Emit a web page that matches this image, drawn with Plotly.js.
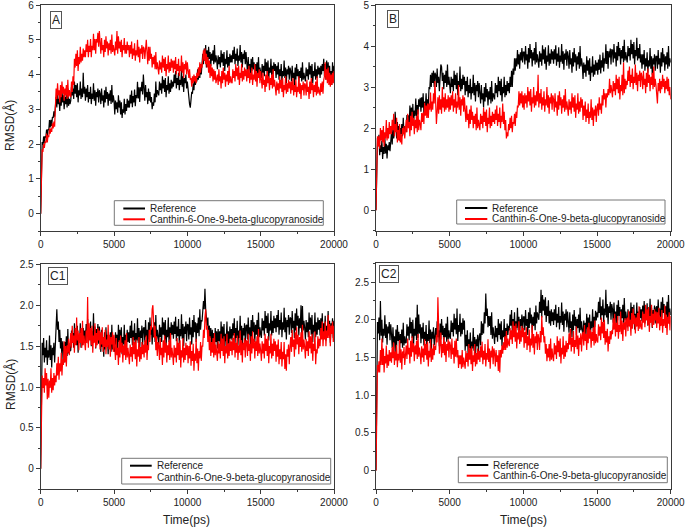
<!DOCTYPE html>
<html>
<head>
<meta charset="utf-8">
<script src="https://cdn.plot.ly/plotly-3.0.1.min.js"></script>
<style>html,body{margin:0;padding:0;background:#fff;}#chart{width:685px;height:527px;}</style>
</head>
<body>
<div id="chart"></div>
<script>
// ---- data (RMSD in Å, sampled every 50 ps from 0 to 20000 ps; one row = 1000 ps) ----
const timeStepPs = 50;
const seriesNames = ["Reference", "Canthin-6-One-9-beta-glucopyranoside"];
const panelLabels = ["A", "B", "C1", "C2"];

const aRef = [0,
1.82,2.06,1.98,2.22,2.02,2.23,2.18,2.42,2.21,2.43,2.4,2.69,2.48,2.7,2.52,2.78,2.75,2.94,2.79,3.03,
3.35,3.05,3.5,3.15,3.3,2.95,3.45,3.1,3.55,3.2,3.4,3.0,3.35,3.15,3.45,3.05,3.6,3.1,3.3,3.15,
3.25,3.65,3.4,3.6,3.3,3.8,3.45,3.7,3.35,3.75,3.2,3.55,3.4,3.8,3.3,3.6,3.35,4.05,3.45,3.65,
3.25,3.6,3.35,3.7,3.2,3.5,3.3,3.65,3.15,3.45,3.3,3.75,3.25,3.55,3.1,3.5,3.35,3.6,3.2,3.55,
3.45,3.15,3.6,3.25,3.4,3.05,3.55,3.2,3.65,3.3,3.5,3.1,3.45,3.25,3.55,3.15,3.7,3.2,3.4,3.25,
2.85,3.25,3.0,3.2,2.9,3.4,3.05,3.25,2.85,3.2,2.75,3.0,2.9,3.3,2.85,3.15,2.95,3.3,3.05,3.25,
3.05,3.42,3.17,3.54,3.06,3.38,3.2,3.57,3.09,3.41,3.32,3.79,3.31,3.63,3.21,3.63,3.52,3.79,3.43,4.0,
3.55,3.25,3.7,3.35,3.5,3.15,3.6,3.25,3.5,3.2,3.35,3.0,3.2,3.1,3.45,3.2,3.8,3.35,3.55,3.45,
3.4,3.8,3.55,3.75,3.45,3.95,3.6,3.85,3.5,3.9,3.35,3.7,3.55,3.95,3.45,3.75,3.5,3.85,3.6,3.8,
3.65,4.0,3.75,4.1,3.6,3.9,3.7,4.05,3.55,3.85,3.7,4.15,3.65,3.95,3.5,3.9,3.75,4.0,3.6,3.8,
3.5,3.3,3.15,3.05,3.25,3.5,3.45,3.75,3.55,3.95,3.7,3.95,3.8,4.15,3.85,4.2,3.9,4.3,4.0,4.35,
4.6,4.3,4.75,4.4,4.85,4.2,4.7,4.35,4.8,4.45,4.65,4.25,4.6,4.4,4.7,4.3,4.85,4.35,4.55,4.4,
4.15,4.55,4.3,4.5,4.2,4.7,4.35,4.6,4.25,4.65,4.1,4.45,4.3,4.7,4.2,4.5,4.25,4.6,4.35,4.55,
4.35,4.7,4.45,4.8,4.3,4.6,4.4,4.75,4.25,4.55,4.4,4.85,4.35,4.65,4.2,4.6,4.45,4.7,4.3,4.65,
4.35,4.05,4.5,4.15,4.3,3.95,4.45,4.1,4.5,4.15,4.35,3.95,4.3,4.1,4.35,3.95,4.5,4.0,4.2,4.05,
3.9,4.3,4.05,4.25,3.95,4.45,4.1,4.35,4.0,4.4,3.85,4.2,4.05,4.45,3.95,4.25,4.0,4.35,4.1,4.3,
3.9,4.25,4.0,4.35,3.85,4.15,3.95,4.3,3.8,4.1,3.95,4.4,3.9,4.2,3.75,4.15,4.0,4.25,3.85,4.2,
4.1,3.8,4.25,3.9,4.05,3.7,4.2,3.85,4.3,3.95,4.15,3.75,4.1,3.9,4.2,3.8,4.35,3.85,4.05,3.9,
3.8,4.2,3.95,4.15,3.85,4.35,4.0,4.25,3.9,4.3,3.75,4.1,3.95,4.35,3.85,4.15,3.9,4.25,4.0,4.2,
3.9,4.25,4.0,4.3,4.1,4.45,3.95,4.3,3.85,4.4,3.9,4.35,4.0,4.25,3.8,4.1,3.7,4.35,3.85,4.25];

const aLig = [0,
1.62,1.85,1.77,2.0,1.89,2.08,2.03,2.3,2.05,2.25,2.2,2.45,2.3,2.45,2.35,2.6,2.45,2.65,2.5,2.9,
3.6,3.3,3.75,3.4,3.55,3.2,3.7,3.35,3.8,3.45,3.65,3.25,3.6,3.4,3.7,3.3,3.85,3.35,3.55,3.4,
3.35,3.8,3.5,3.95,3.7,4.45,4.2,4.6,4.25,4.7,4.1,4.5,4.3,4.8,4.35,4.6,4.4,4.75,4.5,4.7,
4.5,4.87,4.65,5.0,4.5,4.83,4.65,5.02,4.5,4.83,4.7,5.17,4.7,5.02,4.6,5.02,4.92,5.2,4.8,5.25,
4.9,4.6,5.05,4.7,4.85,4.5,5.0,4.65,5.1,4.75,4.95,4.55,4.9,4.7,5.0,4.6,5.15,4.65,4.85,4.7,
4.55,4.95,4.7,5.25,4.6,5.1,4.75,4.95,4.65,5.0,4.5,4.85,4.7,5.05,4.6,4.85,4.6,4.95,4.7,4.85,
4.5,4.85,4.6,4.95,4.45,4.75,4.55,4.9,4.4,4.7,4.55,5.0,4.5,4.8,4.35,4.75,4.6,4.85,4.45,4.8,
4.75,4.45,4.85,5.0,4.65,4.3,4.8,4.4,4.8,4.45,4.6,4.2,4.5,4.3,4.55,4.15,4.65,4.15,4.35,4.2,
4.0,4.4,4.15,4.35,4.05,4.55,4.2,4.45,4.1,4.5,3.95,4.3,4.15,4.55,4.05,4.35,4.1,4.45,4.2,4.4,
4.05,4.4,4.15,4.5,4.0,4.3,4.1,4.45,3.95,4.25,4.1,4.55,4.05,4.35,3.9,4.3,4.15,4.4,4.0,4.35,
4.2,3.9,4.15,3.85,3.9,3.65,3.95,3.75,4.0,3.8,3.95,3.75,4.05,3.9,4.2,3.95,4.35,4.05,4.3,4.2,
4.45,4.7,4.4,4.75,4.3,4.6,4.2,4.5,4.05,4.4,3.9,4.3,3.95,4.2,3.8,4.15,3.85,4.1,3.75,4.0,
4.0,3.7,4.15,3.8,3.95,3.6,4.1,3.75,4.2,3.85,4.05,3.65,4.0,3.8,4.1,3.7,4.25,3.75,3.95,3.8,
3.75,4.15,3.9,4.1,3.8,4.3,3.95,4.2,3.85,4.25,3.7,4.05,3.9,4.3,3.8,4.1,3.85,4.2,3.95,4.15,
3.8,4.15,3.9,4.25,3.75,4.05,3.85,4.2,3.7,4.0,3.85,4.3,3.8,4.1,3.65,4.05,3.9,4.15,3.75,4.1,
3.9,3.6,4.05,3.7,3.85,3.5,4.0,3.65,4.1,3.75,3.95,3.55,3.9,3.7,4.0,3.6,4.15,3.65,3.85,3.7,
3.4,3.8,3.55,3.75,3.45,3.95,3.6,3.85,3.5,3.9,3.35,3.7,3.55,3.95,3.45,3.75,3.5,3.85,3.6,3.8,
3.45,3.8,3.55,3.9,3.4,3.7,3.5,3.85,3.35,3.65,3.5,3.95,3.45,3.75,3.3,3.7,3.55,3.8,3.4,3.75,
3.7,3.4,3.85,3.5,3.65,3.3,3.8,3.45,3.9,3.55,3.75,3.35,3.7,3.5,3.8,3.4,3.95,3.45,3.65,3.5,
3.4,3.75,3.5,3.8,3.45,3.85,3.95,4.35,3.85,4.15,3.75,4.2,3.7,4.05,3.65,4.0,3.7,4.05,3.75,4.1];

const bRef = [0,
1.48,1.76,1.56,1.84,1.34,1.58,1.42,1.7,1.25,1.54,1.37,1.77,1.38,1.62,1.26,1.58,1.46,1.66,1.44,1.82,
1.9,1.6,2.05,1.75,1.9,2.4,2.05,1.75,2.15,1.85,2.05,1.7,2.0,1.85,2.1,1.8,2.25,1.85,2.05,1.95,
1.9,2.32,2.09,2.31,2.03,2.55,2.23,2.5,2.17,2.59,2.06,2.43,2.3,2.72,2.24,2.56,2.33,2.7,2.52,2.74,
2.4,2.75,2.5,2.85,2.35,2.65,2.5,2.85,2.4,2.7,2.55,3.0,2.95,3.3,3.0,3.35,3.1,3.4,3.0,3.35,
3.3,3.0,3.45,3.1,3.25,2.9,3.4,3.55,3.5,3.15,3.35,2.95,3.3,3.1,3.4,3.0,3.55,3.05,3.25,3.1,
2.85,3.25,3.0,3.2,2.9,3.4,3.05,3.3,2.95,3.35,2.8,3.15,3.0,3.5,2.9,3.2,2.95,3.3,3.05,3.25,
2.8,3.15,2.9,3.25,2.75,3.05,2.85,3.2,2.7,3.0,2.85,3.3,2.8,3.1,2.65,3.05,2.9,3.15,2.75,3.1,
2.9,2.6,3.05,2.7,2.85,2.5,3.0,2.65,3.1,2.75,2.95,2.55,2.9,2.7,3.0,2.6,3.15,2.65,2.85,2.7,
2.7,3.1,2.85,3.05,2.75,3.25,2.9,3.15,2.8,3.2,2.65,3.0,2.85,3.25,2.75,3.05,2.8,3.15,2.9,3.1,
2.85,3.25,3.0,3.4,3.0,3.45,3.3,3.7,3.4,3.7,3.5,3.9,3.55,3.8,3.45,3.85,3.65,3.95,3.6,3.85,
3.85,3.55,4.0,3.65,3.8,3.45,3.95,3.6,4.05,3.7,3.9,3.5,3.85,3.65,3.95,3.55,4.1,3.6,3.8,3.65,
3.47,3.87,3.62,3.82,3.52,4.02,3.67,3.92,3.57,3.97,3.42,3.77,3.62,4.02,3.52,3.82,3.57,3.92,3.67,3.87,
3.57,3.92,3.67,4.02,3.52,3.82,3.62,3.97,3.47,3.77,3.62,4.05,3.57,3.87,3.42,3.82,3.67,3.92,3.52,3.87,
3.75,3.45,3.9,3.55,3.7,3.35,3.85,3.5,3.95,3.6,3.8,3.4,3.75,3.55,3.85,3.45,4.0,3.5,3.7,3.55,
3.2,3.6,3.35,3.55,3.25,3.75,3.4,3.65,3.3,3.7,3.15,3.5,3.35,3.75,3.25,3.55,3.3,3.65,3.4,3.6,
3.3,3.67,3.42,3.79,3.33,3.65,3.47,3.84,3.38,3.7,3.57,4.04,3.56,3.88,3.45,3.87,3.72,3.94,3.55,3.92,
3.9,3.6,4.05,3.7,3.85,3.5,4.0,3.65,4.1,3.75,3.95,3.55,3.9,3.7,4.0,3.6,4.15,3.65,3.85,3.7,
3.6,4.0,3.75,3.95,3.65,4.15,3.8,4.05,3.7,4.1,3.55,3.9,3.75,4.2,3.65,3.95,3.7,4.05,3.6,3.8,
3.45,3.8,3.55,3.9,3.4,3.7,3.5,3.85,3.35,3.65,3.5,3.95,3.45,3.75,3.3,3.7,3.55,3.8,3.4,3.75,
3.75,3.45,3.9,3.55,3.7,3.35,3.85,3.5,3.95,3.6,3.8,3.4,3.75,3.55,3.85,3.45,4.0,3.5,3.7,3.6];

const bLig = [0,
1.35,1.8,1.55,1.8,1.5,2.0,1.7,1.95,1.65,2.05,1.55,1.9,1.75,2.2,1.7,2.0,1.75,2.15,1.85,2.05,
1.85,2.2,1.95,2.35,1.8,2.1,1.9,2.25,1.65,1.95,1.7,2.1,1.65,1.85,1.6,2.0,1.85,2.05,1.75,2.1,
2.2,1.9,2.35,2.0,2.15,1.8,2.3,1.95,2.4,2.05,2.25,1.85,2.2,2.0,2.3,1.9,2.45,1.95,2.2,2.1,
1.95,2.37,2.15,2.38,2.1,2.62,2.3,2.55,2.25,2.6,2.25,2.6,2.45,2.87,2.4,2.65,2.45,2.85,2.6,3.15,
2.2,2.1,2.4,2.75,2.35,2.8,2.45,2.7,2.35,3.0,2.5,2.75,2.4,2.85,2.45,2.7,2.5,2.8,2.4,2.75,
2.45,2.8,2.55,2.9,2.4,2.7,2.5,2.85,2.35,2.65,2.5,3.05,2.45,2.75,2.3,2.7,2.55,2.8,2.4,2.75,
2.45,2.15,2.55,2.2,2.35,2.0,2.45,2.1,2.55,2.2,2.4,2.0,2.3,2.1,2.35,1.95,2.5,2.0,2.2,2.05,
1.95,2.35,2.1,2.3,2.0,2.5,2.15,2.4,2.05,2.45,1.9,2.25,2.1,2.5,2.0,2.3,2.05,2.4,2.15,2.35,
2.1,2.45,2.2,2.55,2.05,2.35,2.15,2.5,2.0,2.3,2.15,2.6,2.1,2.4,1.95,2.2,1.75,1.9,1.8,2.1,
1.95,2.25,2.0,2.3,1.9,2.15,2.1,2.35,2.05,2.4,2.25,2.55,2.5,2.9,2.55,2.85,2.6,2.9,2.5,2.8,
2.45,2.85,2.6,2.8,2.5,3.0,2.65,2.9,2.55,2.95,2.4,2.75,2.6,3.0,2.5,2.8,2.55,2.9,2.65,3.3,
2.5,2.85,2.6,2.95,2.45,2.75,2.55,2.9,2.4,2.7,2.55,3.0,2.5,2.8,2.35,2.75,2.6,2.85,2.45,2.8,
2.7,2.4,2.85,2.5,2.65,2.3,2.8,2.45,2.9,2.55,2.75,2.35,2.7,2.5,2.8,2.4,2.95,2.45,2.65,2.5,
2.3,2.7,2.45,2.65,2.35,2.85,2.5,2.75,2.4,2.8,2.25,2.6,2.45,2.85,2.35,2.65,2.4,2.75,2.5,2.7,
2.2,2.55,2.3,2.65,2.15,2.45,2.25,2.6,2.1,2.4,2.25,2.7,2.2,2.5,2.05,2.45,2.3,2.55,2.15,2.5,
2.6,2.3,2.75,2.45,2.6,2.35,2.8,2.55,2.95,2.7,2.85,2.5,2.85,2.75,2.95,2.8,3.2,2.85,3.05,2.9,
2.75,3.15,2.9,3.1,2.8,3.3,2.95,3.2,2.85,3.25,2.7,3.05,2.9,3.3,2.8,3.6,2.85,3.2,2.95,3.15,
3.05,3.4,3.15,3.5,3.0,3.3,3.1,3.45,2.95,3.25,3.1,3.55,3.05,3.35,2.9,3.3,3.15,3.4,3.0,3.35,
3.25,2.95,3.4,3.05,3.2,2.85,3.35,3.0,3.45,3.1,3.3,2.9,3.25,3.05,3.35,2.95,3.5,3.0,3.2,3.05,
2.85,2.6,3.1,2.9,3.2,2.85,3.15,2.95,3.3,3.0,3.2,2.85,3.15,2.95,3.25,2.9,3.2,2.8,3.0,2.7];

const c1Ref = [0,
1.33,1.54,1.39,1.6,1.3,1.48,1.36,1.57,1.27,1.45,1.36,1.63,1.33,1.51,1.24,1.48,1.39,1.54,1.3,1.51,
1.62,1.95,1.7,1.8,1.55,1.7,1.47,1.6,1.32,1.56,1.47,1.3,1.55,1.44,1.62,1.38,1.71,1.41,1.53,1.44,
1.45,1.69,1.54,1.66,1.48,1.78,1.57,1.72,1.51,1.75,1.42,1.63,1.54,1.78,1.48,1.66,1.51,1.72,1.57,1.69,
1.56,1.77,1.62,1.83,1.53,1.71,1.59,1.8,1.5,1.68,1.59,1.9,1.56,1.74,1.47,1.71,1.62,1.77,1.53,1.74,
1.61,1.43,1.7,1.49,1.58,1.37,1.67,1.46,1.73,1.52,1.64,1.4,1.61,1.49,1.67,1.43,1.76,1.46,1.58,1.49,
1.43,1.67,1.52,1.64,1.46,1.76,1.55,1.7,1.49,1.73,1.4,1.61,1.52,1.76,1.46,1.64,1.49,1.7,1.55,1.67,
1.54,1.75,1.6,1.81,1.51,1.69,1.57,1.78,1.48,1.66,1.57,1.84,1.54,1.72,1.45,1.69,1.6,1.75,1.51,1.72,
1.73,1.55,1.82,1.61,1.7,1.49,1.79,1.58,1.85,1.64,1.76,1.52,1.73,1.61,1.79,1.55,1.88,1.58,1.7,1.61,
1.52,1.76,1.61,1.73,1.55,1.85,1.64,1.79,1.58,1.82,1.49,1.7,1.61,1.85,1.55,1.73,1.58,1.79,1.64,1.76,
1.59,1.8,1.65,1.86,1.56,1.74,1.62,1.83,1.53,1.71,1.62,1.89,1.59,1.77,1.5,1.74,1.65,1.8,1.56,1.77,
1.76,1.58,1.85,1.64,1.73,1.52,1.82,1.61,1.88,1.67,1.79,1.55,1.78,1.66,1.85,1.62,1.95,1.7,1.82,1.8,
1.9,2.05,1.95,2.2,1.95,1.8,1.75,1.85,1.55,1.75,1.6,1.72,1.48,1.7,1.52,1.66,1.45,1.72,1.55,1.68,
1.47,1.71,1.56,1.68,1.5,1.8,1.59,1.74,1.53,1.77,1.44,1.65,1.56,1.8,1.5,1.68,1.53,1.74,1.59,1.71,
1.57,1.78,1.63,1.84,1.54,1.72,1.6,1.81,1.51,1.69,1.6,1.87,1.57,1.75,1.48,1.72,1.63,1.78,1.54,1.75,
1.76,1.58,1.85,1.64,1.73,1.52,1.82,1.61,1.88,1.67,1.79,1.55,1.76,1.64,1.82,1.58,1.91,1.61,1.73,1.64,
1.6,1.84,1.69,1.81,1.63,1.93,1.72,1.87,1.66,1.9,1.57,1.78,1.69,1.93,1.63,1.81,1.66,1.87,1.72,1.84,
1.67,1.88,1.73,1.94,1.64,1.82,1.7,1.91,1.61,1.79,1.7,1.97,1.67,1.85,1.58,1.82,1.73,1.88,1.64,1.85,
1.84,1.66,1.93,1.72,1.81,1.6,1.9,1.69,1.96,1.75,1.87,1.63,1.84,1.72,2.0,1.66,1.99,1.69,1.81,1.72,
1.58,1.82,1.67,1.79,1.61,1.91,1.7,1.85,1.64,1.88,1.55,1.76,1.67,1.91,1.61,1.79,1.64,1.85,1.7,1.82,
1.63,1.84,1.69,1.9,1.6,1.78,1.66,1.87,1.57,1.75,1.66,1.93,1.63,1.81,1.54,1.78,1.69,1.84,1.6,1.81];

const c1Lig = [0,
0.9,1.14,0.99,1.11,0.93,1.23,1.02,1.17,0.85,1.1,0.87,1.08,0.99,1.23,0.93,1.11,0.96,1.17,1.02,1.14,
1.06,1.29,1.14,1.37,1.09,1.29,1.19,1.42,1.14,1.34,1.27,1.56,1.3,1.5,1.25,1.51,1.42,1.59,1.39,1.62,
1.66,1.48,1.75,1.54,1.63,1.42,1.72,1.51,1.85,1.57,1.69,1.45,1.66,1.54,1.72,1.48,1.81,1.51,1.63,1.54,
1.45,1.69,1.54,2.1,1.48,1.78,1.57,1.72,1.51,1.75,1.42,1.63,1.54,1.78,1.48,1.66,1.51,1.72,1.57,1.69,
1.46,1.67,1.52,1.73,1.43,1.61,1.49,1.7,1.4,1.58,1.49,1.76,1.46,1.64,1.37,1.61,1.52,1.67,1.43,1.64,
1.51,1.33,1.6,1.39,1.48,1.27,1.57,1.36,1.63,1.42,1.54,1.3,1.51,1.39,1.57,1.33,1.66,1.36,1.48,1.39,
1.28,1.52,1.37,1.49,1.31,1.61,1.4,1.55,1.34,1.58,1.25,1.46,1.37,1.61,1.31,1.49,1.34,1.55,1.4,1.52,
1.36,1.57,1.42,1.63,1.33,1.51,1.45,1.7,1.55,1.75,1.7,1.95,2.0,1.8,1.6,1.75,1.45,1.62,1.38,1.55,
1.51,1.33,1.6,1.39,1.48,1.27,1.57,1.36,1.63,1.42,1.54,1.3,1.51,1.39,1.57,1.33,1.66,1.36,1.48,1.39,
1.27,1.51,1.36,1.48,1.3,1.6,1.39,1.54,1.33,1.57,1.24,1.45,1.36,1.6,1.3,1.48,1.33,1.54,1.39,1.51,
1.29,1.5,1.35,1.56,1.26,1.44,1.32,1.53,1.2,1.41,1.32,1.59,1.29,1.47,1.2,1.44,1.35,1.55,1.32,1.5,
1.5,1.7,1.6,1.85,1.95,1.7,1.75,1.55,1.7,1.45,1.62,1.38,1.55,1.42,1.6,1.36,1.66,1.39,1.52,1.42,
1.32,1.56,1.41,1.53,1.35,1.65,1.44,1.59,1.38,1.62,1.29,1.5,1.41,1.65,1.35,1.53,1.38,1.59,1.44,1.56,
1.39,1.6,1.45,1.66,1.36,1.54,1.42,1.63,1.33,1.51,1.42,1.69,1.39,1.57,1.3,1.54,1.45,1.6,1.36,1.57,
1.56,1.38,1.65,1.44,1.53,1.32,1.62,1.41,1.68,1.47,1.59,1.35,1.56,1.44,1.62,1.38,1.71,1.41,1.53,1.44,
1.32,1.56,1.41,1.53,1.35,1.65,1.44,1.59,1.38,1.62,1.29,1.5,1.41,1.65,1.35,1.53,1.38,1.59,1.44,1.56,
1.31,1.52,1.37,1.58,1.28,1.46,1.34,1.55,1.25,1.43,1.34,1.55,1.22,1.4,1.2,1.46,1.37,1.52,1.28,1.49,
1.61,1.43,1.7,1.49,1.58,1.37,1.67,1.46,1.73,1.52,1.64,1.4,1.61,1.49,1.67,1.43,1.76,1.46,1.58,1.49,
1.35,1.59,1.44,1.56,1.38,1.68,1.47,1.62,1.41,1.65,1.32,1.53,1.44,1.68,1.28,1.46,1.41,1.62,1.47,1.59,
1.5,1.72,1.58,1.8,1.5,1.68,1.58,1.8,1.5,1.69,1.6,1.88,1.6,1.77,1.5,1.75,1.65,1.8,1.55,1.75];

const c2Ref = [0,
1.76,1.97,1.82,2.03,1.73,2.25,1.79,2.0,1.7,1.88,1.79,2.06,1.76,1.94,1.67,1.91,1.82,1.97,1.73,1.94,
1.81,1.63,1.9,1.69,1.78,1.57,1.87,1.66,1.93,1.72,1.84,1.6,1.81,1.69,1.87,1.63,1.96,1.66,1.78,1.69,
1.7,1.94,1.79,1.91,1.73,2.03,1.82,1.97,1.76,2.0,1.67,1.88,1.79,2.03,1.73,2.2,1.76,2.07,1.82,1.94,
1.69,1.9,1.75,1.96,1.66,1.84,1.72,1.93,1.63,1.81,1.72,1.99,1.69,1.87,1.6,1.84,1.75,1.9,1.66,1.87,
1.89,1.71,1.98,1.77,1.86,1.65,1.95,1.74,2.01,1.8,1.92,1.68,1.89,1.77,1.95,1.71,2.04,1.74,1.86,1.77,
1.75,1.99,1.84,1.96,1.78,2.08,1.87,2.02,1.81,2.15,1.72,1.93,1.84,2.08,1.78,1.96,1.81,2.02,1.87,1.99,
1.59,1.8,1.65,1.86,1.56,1.74,1.62,1.83,1.53,1.71,1.62,1.89,1.59,1.77,1.5,1.74,1.65,1.8,1.56,1.77,
1.82,1.66,1.98,1.8,1.95,1.82,2.1,1.95,2.35,2.05,2.15,1.9,2.05,1.92,2.05,1.8,2.1,1.75,1.9,1.8,
1.68,1.92,1.77,1.89,1.71,2.01,1.8,1.95,1.74,1.98,1.65,1.86,1.77,2.01,1.71,1.89,1.74,1.95,1.8,1.92,
1.86,2.07,1.92,2.13,1.83,2.01,1.89,2.1,1.8,1.98,1.89,2.16,1.86,2.04,1.77,2.01,1.92,2.07,1.83,2.04,
2.04,1.86,2.13,1.92,2.01,1.8,2.1,1.89,2.16,1.95,2.07,1.83,2.04,1.92,2.1,1.86,2.19,1.95,2.1,2.05,
2.0,2.24,2.09,2.4,2.03,2.33,2.12,2.27,2.06,2.3,1.97,2.18,2.05,2.26,1.95,2.12,1.92,2.14,1.98,2.1,
1.93,2.14,1.99,2.2,1.9,2.08,1.96,2.17,1.87,2.05,1.96,2.23,1.93,2.11,1.84,2.08,1.99,2.14,1.9,2.11,
2.01,1.83,2.1,1.89,1.98,1.77,2.07,1.86,2.13,1.92,2.04,1.8,2.01,1.89,2.07,1.83,2.16,1.86,1.98,1.89,
1.75,1.99,1.83,1.96,1.78,2.08,1.88,2.03,1.83,2.07,1.76,1.98,1.89,2.14,1.85,2.04,1.9,2.12,1.99,2.1,
2.03,2.24,2.09,2.3,2.0,2.18,2.06,2.27,1.97,2.15,2.06,2.4,2.03,2.21,1.94,2.18,2.09,2.24,2.0,2.21,
2.14,1.96,2.23,2.02,2.11,1.9,2.2,1.99,2.26,2.05,2.17,1.93,2.14,2.02,2.2,1.96,2.29,1.99,2.11,2.02,
1.9,2.14,1.99,2.11,1.93,2.23,2.02,2.17,1.96,2.2,1.87,2.08,1.99,2.23,1.93,2.11,1.96,2.17,2.02,2.14,
1.98,2.19,2.04,2.25,1.95,2.13,2.01,2.22,1.92,2.1,2.01,2.28,1.98,2.16,1.89,2.13,2.04,2.19,1.95,2.16,
2.18,2.0,2.27,2.06,2.15,1.94,2.24,2.03,2.3,2.09,2.21,1.97,2.18,2.06,2.24,2.0,2.33,2.03,2.15,2.06];

const c2Lig = [0,
1.1,1.4,1.3,1.45,1.3,1.6,1.4,1.75,1.4,1.62,1.3,1.52,1.42,1.66,1.36,1.54,1.39,1.6,1.45,1.57,
1.43,1.64,1.49,1.7,1.4,1.58,1.46,1.67,1.37,1.55,1.46,1.73,1.43,1.61,1.34,1.58,1.49,1.64,1.4,1.61,
1.66,1.48,1.75,1.54,1.63,1.42,1.72,1.51,1.78,1.57,1.69,1.45,1.66,1.54,1.72,1.48,1.81,1.51,1.63,1.54,
1.41,1.65,1.5,1.62,1.44,1.74,1.53,1.68,1.47,1.71,1.38,1.59,1.5,1.74,1.44,1.62,1.47,1.68,1.53,1.65,
1.6,1.8,1.7,2.3,1.75,1.55,1.68,1.83,1.5,1.68,1.56,1.77,1.53,1.71,1.44,1.68,1.59,1.74,1.5,1.71,
1.66,1.48,1.75,1.54,1.63,1.42,1.72,1.51,1.75,1.5,1.6,1.36,1.53,1.41,1.53,1.35,1.6,1.37,1.5,1.4,
1.35,1.59,1.44,1.56,1.38,1.68,1.47,1.62,1.41,1.65,1.32,1.53,1.44,1.68,1.38,1.56,1.41,1.62,1.47,1.59,
1.44,1.65,1.5,1.71,1.41,1.59,1.47,1.68,1.38,1.56,1.47,1.74,1.44,1.62,1.35,1.59,1.5,1.65,1.41,1.62,
1.56,1.38,1.6,1.44,1.53,1.32,1.6,1.3,1.6,1.5,1.66,1.55,1.7,1.6,1.78,1.6,1.85,1.63,1.75,1.68,
1.65,1.89,1.74,1.86,1.68,1.98,1.77,1.92,1.71,1.95,1.62,1.83,1.74,1.98,1.68,1.86,1.71,1.92,1.77,1.89,
1.63,1.84,1.69,1.9,1.6,1.78,1.66,1.87,1.57,1.75,1.66,1.93,1.63,1.81,1.54,1.78,1.69,1.84,1.6,1.81,
1.75,1.6,1.85,1.7,2.05,1.8,1.9,1.7,1.78,1.55,1.68,1.45,1.62,1.5,1.68,1.45,1.75,1.47,1.62,1.5,
1.45,1.69,1.54,1.66,1.48,1.78,1.57,1.72,1.51,1.75,1.42,1.63,1.54,1.78,1.48,1.66,1.51,1.72,1.57,1.69,
1.61,1.82,1.67,1.88,1.58,1.76,1.64,1.85,1.55,1.73,1.64,1.91,1.61,1.79,1.52,1.76,1.67,1.82,1.58,1.79,
1.84,1.66,1.93,1.72,1.81,1.6,1.9,1.69,1.96,1.75,1.87,1.63,1.84,1.72,1.9,1.66,1.99,1.69,1.81,1.72,
1.7,1.94,1.79,1.91,1.73,2.03,1.82,1.97,1.76,2.0,1.67,1.85,1.7,1.88,1.58,1.78,1.68,1.85,1.74,1.86,
1.81,2.02,1.87,2.08,1.78,1.96,1.84,2.05,1.75,1.93,1.84,2.11,1.81,1.99,1.72,1.96,1.87,2.02,1.78,1.99,
2.03,1.85,2.12,1.91,2.0,1.79,2.09,1.88,2.15,1.94,2.06,1.82,2.03,1.91,2.09,1.85,2.18,1.88,2.0,1.91,
1.87,2.11,1.96,2.08,1.9,2.2,1.99,2.14,1.93,2.17,1.84,2.05,1.96,2.2,1.9,2.08,1.93,2.14,1.99,2.11,
1.89,2.1,1.95,2.16,1.86,2.04,1.92,2.13,1.83,2.01,1.92,2.19,1.89,2.07,1.8,2.04,1.95,2.1,1.86,2.05];

const xTickVals = [0, 5000, 10000, 15000, 20000];
const xTickText = ["0", "5000", "10000", "15000", "20000"];
const yTicksA = [0, 1, 2, 3, 4, 5, 6];
const yTicksB = [0, 1, 2, 3, 4, 5];
const yTicksC1 = [0, 0.5, 1.0, 1.5, 2.0, 2.5];
const yTicksC1Text = ["0", "0.5", "1.0", "1.5", "2.0", "2.5"];
const yTicksC2 = [0, 0.5, 1.0, 1.5, 2.0, 2.5];
const yTicksC2Text = ["0", "0.5", "1.0", "1.5", "2.0", "2.5"];

// ---- layout helpers (pixel -> paper, margins are zero) ----
const W = 685, H = 527;
const fx = v => v / W;
const fy = v => 1 - v / H;
const FONT = "Liberation Sans, Arial, Helvetica, sans-serif";
const AX = "#3a3a3a";
const LINE_W = 1.2;

const panels = [
  {lab: panelLabels[0], ref: aRef, lig: aLig, xd: [40.7, 334], yd: [5, 231], yr: [-0.5, 6],
   tv: yTicksA, tt: yTicksA.map(String), minor: 0.5,
   labBox: [56, 20], leg: [114.3, 200.7, 323.3, 225.3], ly: [208.5, 219.3], lx: [123.3, 145, 147.5]},
  {lab: panelLabels[1], ref: bRef, lig: bLig, xd: [376, 670.7], yd: [5, 230.7], yr: [-0.5, 5],
   tv: yTicksB, tt: yTicksB.map(String), minor: 0.5,
   labBox: [393, 19], leg: [456.7, 200, 665, 224], ly: [208, 219], lx: [465, 487.3, 490]},
  {lab: panelLabels[2], ref: c1Ref, lig: c1Lig, xd: [40.7, 334], yd: [264.3, 489.3], yr: [-0.25, 2.5],
   tv: yTicksC1, tt: yTicksC1Text, minor: 0.25,
   labBox: [58, 276], leg: [121.7, 458.3, 330.7, 484], ly: [465.7, 477.3], lx: [130, 151.7, 154.5]},
  {lab: panelLabels[3], ref: c2Ref, lig: c2Lig, xd: [376, 670.7], yd: [263.3, 489.3], yr: [-0.25, 2.75],
   tv: yTicksC2, tt: yTicksC2Text, minor: 0.25,
   labBox: [389, 273.7], leg: [458.3, 457, 667.3, 482.7], ly: [465, 475.7], lx: [466.7, 488.3, 491]}
];

const traces = [];
const layout = {
  width: W, height: H,
  margin: {l: 0, r: 0, t: 0, b: 0},
  paper_bgcolor: "#ffffff", plot_bgcolor: "#ffffff",
  showlegend: false,
  font: {family: FONT, size: 10, color: "#222"},
  shapes: [], annotations: []
};

panels.forEach((p, i) => {
  const n = i === 0 ? "" : String(i + 1);
  const xa = "x" + n, ya = "y" + n;
  const timesRef = p.ref.map((_, k) => k * timeStepPs);
  const timesLig = p.lig.map((_, k) => k * timeStepPs);
  traces.push({type: "scatter", mode: "lines", x: timesRef, y: p.ref, xaxis: xa, yaxis: ya,
    name: seriesNames[0], line: {color: "#000000", width: LINE_W}, hoverinfo: "skip"});
  traces.push({type: "scatter", mode: "lines", x: timesLig, y: p.lig, xaxis: xa, yaxis: ya,
    name: seriesNames[1], line: {color: "#ff0000", width: LINE_W}, hoverinfo: "skip"});

  layout["xaxis" + n] = {
    domain: [fx(p.xd[0]), fx(p.xd[1])], anchor: ya, range: [0, 20000],
    showgrid: false, zeroline: false, showline: true, mirror: true, linecolor: AX, linewidth: 1,
    ticks: "outside", ticklen: 4, tickcolor: AX, tickwidth: 1,
    tickmode: "array", tickvals: xTickVals, ticktext: xTickText, ticklabeloverflow: "allow",
    tickfont: {family: FONT, size: 10, color: "#222"},
    minor: {ticks: "outside", ticklen: 2, tickcolor: AX, tickmode: "linear", tick0: 0, dtick: 2500, showgrid: false}
  };
  layout["yaxis" + n] = {
    domain: [fy(p.yd[1]), fy(p.yd[0])], anchor: xa, range: p.yr,
    showgrid: false, zeroline: false, showline: true, mirror: true, linecolor: AX, linewidth: 1,
    ticks: "outside", ticklen: 4, tickcolor: AX, tickwidth: 1,
    tickmode: "array", tickvals: p.tv, ticktext: p.tt, ticklabeloverflow: "allow",
    tickfont: {family: FONT, size: 10, color: "#222"},
    minor: {ticks: "outside", ticklen: 2, tickcolor: AX, tickmode: "linear", tick0: 0, dtick: p.minor, showgrid: false}
  };

  // panel label box
  layout.annotations.push({xref: "paper", yref: "paper", x: fx(p.labBox[0]), y: fy(p.labBox[1]),
    xanchor: "center", yanchor: "middle", text: p.lab, showarrow: false,
    font: {family: FONT, size: 12, color: "#222"}, bordercolor: "#555", borderwidth: 1, borderpad: 1, bgcolor: "#fff"});

  // legend box
  layout.shapes.push({type: "rect", xref: "paper", yref: "paper",
    x0: fx(p.leg[0]), x1: fx(p.leg[2]), y0: fy(p.leg[3]), y1: fy(p.leg[1]),
    line: {color: "#777", width: 1}, fillcolor: "#ffffff", layer: "above"});
  const cols = ["#000000", "#ff0000"];
  [0, 1].forEach(k => {
    layout.shapes.push({type: "line", xref: "paper", yref: "paper",
      x0: fx(p.lx[0]), x1: fx(p.lx[1]), y0: fy(p.ly[k]), y1: fy(p.ly[k]),
      line: {color: cols[k], width: 2}, layer: "above"});
    layout.annotations.push({xref: "paper", yref: "paper", x: fx(p.lx[2]), y: fy(p.ly[k]),
      xanchor: "left", yanchor: "middle", text: seriesNames[k], showarrow: false,
      font: {family: FONT, size: 10, color: "#222"}});
  });
});

// axis titles
layout.annotations.push({xref: "paper", yref: "paper", x: fx(10), y: fy(126), text: "RMSD(Å)", textangle: -90,
  showarrow: false, xanchor: "center", yanchor: "middle", font: {family: FONT, size: 12, color: "#222"}});
layout.annotations.push({xref: "paper", yref: "paper", x: fx(10), y: fy(385), text: "RMSD(Å)", textangle: -90,
  showarrow: false, xanchor: "center", yanchor: "middle", font: {family: FONT, size: 12, color: "#222"}});
layout.annotations.push({xref: "paper", yref: "paper", x: fx(187), y: fy(520), text: "Time(ps)",
  showarrow: false, xanchor: "center", yanchor: "middle", font: {family: FONT, size: 12, color: "#222"}});
layout.annotations.push({xref: "paper", yref: "paper", x: fx(523), y: fy(520), text: "Time(ps)",
  showarrow: false, xanchor: "center", yanchor: "middle", font: {family: FONT, size: 12, color: "#222"}});

Plotly.newPlot("chart", traces, layout, {staticPlot: true, displayModeBar: false});
</script>
</body>
</html>
